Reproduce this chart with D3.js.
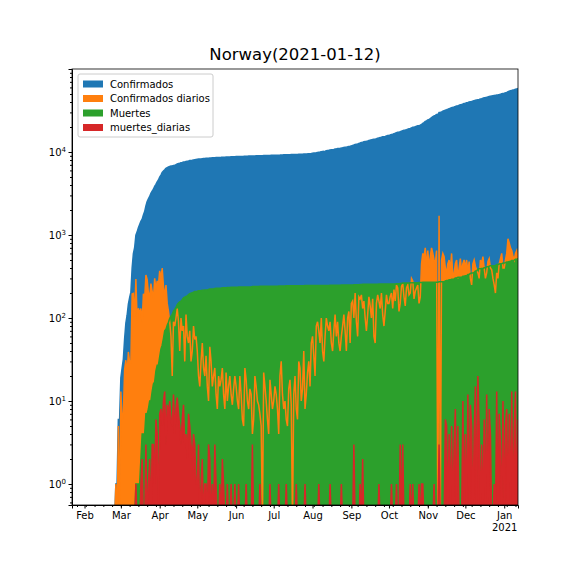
<!DOCTYPE html>
<html>
<head>
<meta charset="utf-8">
<script src="https://cdn.jsdelivr.net/npm/d3@7"></script>
<style>
body { margin: 0; background: #fff; }
text { font-family: "DejaVu Sans", sans-serif; }
</style>
</head>
<body>
<div id="chart"></div>
<script>
// daily new cases (first day 2020-01-22)
var casesJan = [0,0,0,0,0,0,0,0,0,0];
var casesFeb = [0,0,0,0,0,0,0,0,0,0,0,0,0,0,0,0,0,0,0,0,0,0,0,0,0,1,0,5,0];
var casesMar = [13,6,7,24,31,21,39,29,29,195,198,104,294,94,131,112,130,87,196,168,330,290,200,180,260,210,170,300,220,280,250];
var casesApr = [370,300,400,240,180,250,150,120,90,60,20,90,80,100,130,90,40,100,70,80,30,110,60,50,70,30,40,80,55,60];
var casesMay = [40,20,15,30,50,25,20,35,15,10,45,30,15,20,25,12,8,20,15,18,25,12,8,22,10,15,20,12,9,14,20];
var casesJun = [15,10,8,20,12,6,5,25,18,10,8,14,12,4,6,20,15,10,9,7,5,0,22,15,10,6,4,18,12,8];
var casesJul = [10,15,12,8,4,20,30,12,8,10,6,5,14,18,9,0,12,20,8,6,30,25,10,14,40,8,12,22,30,15,50];
var casesAug = [60,35,20,80,90,70,50,100,40,30,60,100,80,70,90,50,40,70,110,60,90,50,40,60,80,110,70,40,100,120,50];
var casesSep = [150,160,100,200,90,60,180,170,190,130,160,100,70,110,180,140,100,170,60,50,150,190,160,130,200,110,80,120,190,150];
var casesOct = [150,180,200,130,220,160,250,230,120,150,240,260,180,140,230,250,190,200,300,280,170,210,230,250,150,180,450,600,550,700,400];
var casesNov = [650,400,550,700,600,500,450,650,0,1700,0,500,600,550,400,350,450,500,380,600,300,350,450,500,300,400,520,350,450,500];
var casesDec = [400,500,350,480,300,250,450,500,420,380,350,300,500,450,550,400,300,350,480,520,400,380,300,250,200,350,300,450,520,600,400];
var casesJan21 = [400,500,600,900,800,700,650,550,500,600,650,500];

// daily deaths
var deathsJan = [0,0,0,0,0,0,0,0,0,0];
var deathsFeb = [0,0,0,0,0,0,0,0,0,0,0,0,0,0,0,0,0,0,0,0,0,0,0,0,0,0,0,0,0];
var deathsMar = [0,0,0,0,0,0,0,0,0,0,0,0,1,0,0,0,1,2,0,0,3,0,1,2,0,3,3,1,6,4,0];
var deathsApr = [7,8,5,10,13,3,9,7,10,6,5,12,4,8,11,7,5,3,6,9,3,4,2,7,5,3,2,4,3,1];
var deathsMay = [1,3,0,1,2,0,1,1,0,3,2,0,1,0,3,1,0,0,1,0,2,1,0,0,1,0,0,1,0,0,1];
var deathsJun = [0,0,1,0,0,0,0,0,1,0,0,0,0,3,0,0,0,0,0,1,0,0,0,0,0,0,0,1,0,0];
var deathsJul = [0,0,0,0,1,0,0,0,0,0,1,0,0,0,0,0,0,0,1,0,0,0,0,0,0,1,0,0,0,0,0];
var deathsAug = [0,0,0,0,0,1,0,0,0,0,0,0,0,0,1,0,0,0,0,0,0,0,0,1,0,0,0,0,0,0,0];
var deathsSep = [0,0,3,0,0,0,0,1,0,2,0,0,0,0,0,0,0,0,0,0,0,0,1,0,0,0,0,0,0,0];
var deathsOct = [0,0,1,0,0,0,1,0,0,3,0,3,0,0,0,0,0,1,0,1,0,0,0,0,1,0,1,1,0,0,0];
var deathsNov = [0,0,0,0,0,1,0,0,0,3,0,0,0,0,6,5,0,4,0,5,0,3,8,0,5,0,0,0,10,0];
var deathsDec = [4,0,12,0,9,5,0,4,15,0,20,5,0,3,0,6,0,12,0,8,4,0,0,1,0,13,0,7,3,0,10];
var deathsJan21 = [0,5,8,0,7,0,13,0,5,13,0,6];

var seriesNames = ["Confirmados", "Confirmados diarios", "Muertes", "muertes_diarias"];
var colors = ["#1f77b4", "#ff7f0e", "#2ca02c", "#d62728"];

var dailyCases = [].concat(casesJan, casesFeb, casesMar, casesApr, casesMay, casesJun, casesJul, casesAug, casesSep, casesOct, casesNov, casesDec, casesJan21);
var dailyDeaths = [].concat(deathsJan, deathsFeb, deathsMar, deathsApr, deathsMay, deathsJun, deathsJul, deathsAug, deathsSep, deathsOct, deathsNov, deathsDec, deathsJan21);

var start = new Date(2020, 0, 22);
var totC = 0, totD = 0;
var data = dailyCases.map(function(c, i) {
  totC += c; totD += dailyDeaths[i];
  return {date: d3.timeDay.offset(start, i), v: [totC, c, totD, dailyDeaths[i]]};
});

var W = 576, H = 576;
var margin = {top: 69, right: 58, bottom: 71, left: 72};
var width = W - margin.left - margin.right,
    height = H - margin.top - margin.bottom;

var svg = d3.select("#chart").append("svg")
    .attr("width", W).attr("height", H)
  .append("g")
    .attr("transform", "translate(" + margin.left + "," + margin.top + ")");

var x = d3.scaleTime()
    .domain([start, data[data.length - 1].date])
    .range([0, width]);
var y = d3.scaleLog()
    .domain([Math.pow(10, -0.253), 1e5])
    .range([height, 0]);

var clipY = function(v) { return v > 0 ? y(v) : height + 20; };

svg.append("clipPath").attr("id", "clip")
  .append("rect").attr("width", width).attr("height", height);
var plot = svg.append("g").attr("clip-path", "url(#clip)");

// fills first, lines on top (matplotlib zorder)
colors.forEach(function(col, k) {
  var area = d3.area()
    .x(function(d) { return x(d.date); })
    .y0(height + 20)
    .y1(function(d) { return clipY(d.v[k]); });
  plot.append("path").datum(data).attr("d", area).attr("fill", col);
});
colors.forEach(function(col, k) {
  var line = d3.line()
    .x(function(d) { return x(d.date); })
    .y(function(d) { return clipY(d.v[k]); });
  plot.append("path").datum(data).attr("d", line)
    .attr("fill", "none").attr("stroke", col).attr("stroke-width", 1.5);
});

// axes
var xAxis = svg.append("g").attr("transform", "translate(0," + height + ")")
  .call(d3.axisBottom(x).ticks(d3.timeMonth).tickSize(3.5).tickPadding(3.5)
    .tickFormat(d3.timeFormat("%b")));
xAxis.selectAll("text").attr("font-size", 10).attr("fill", "#000");
xAxis.selectAll(".tick").filter(function(d) { return d.getFullYear() === 2021; })
  .select("text").append("tspan").attr("x", 0).attr("dy", "1.2em").text("2021");
svg.append("g").attr("transform", "translate(0," + height + ")")
  .call(d3.axisBottom(x).ticks(d3.timeWeek).tickSize(2).tickFormat(""))
  .select(".domain").remove();

var majors = [1, 10, 100, 1000, 10000];
var minors = [];
for (var e = -1; e < 5; e++) for (var m = 2; m < 10; m++) {
  var v = m * Math.pow(10, e);
  if (v > y.domain()[0] && v < 1e5) minors.push(v);
}
var yAxis = svg.append("g")
  .call(d3.axisLeft(y).tickValues(majors).tickSize(3.5).tickPadding(3.5).tickFormat(""));
yAxis.selectAll(".tick").append("text")
  .attr("x", -6).attr("dy", "0.32em").attr("text-anchor", "end")
  .attr("font-size", 10).attr("fill", "#000")
  .each(function(d) {
    var t = d3.select(this);
    t.append("tspan").text("10");
    t.append("tspan").attr("dy", "-0.5em").attr("font-size", 7).text(Math.round(Math.log10(d)));
  });
svg.append("g").call(d3.axisLeft(y).tickValues(minors).tickSize(2).tickFormat(""))
  .select(".domain").remove();

svg.append("rect").attr("width", width).attr("height", height)
  .attr("fill", "none").attr("stroke", "#000").attr("stroke-width", 0.8);

svg.append("text").attr("x", width / 2).attr("y", -9)
  .attr("text-anchor", "middle").attr("font-size", 16.5)
  .text("Norway(2021-01-12)");

// legend
var lg = svg.append("g").attr("transform", "translate(6,5)");
lg.append("rect").attr("width", 135).attr("height", 63).attr("rx", 2)
  .attr("fill", "#fff").attr("fill-opacity", 0.8).attr("stroke", "#ccc");
seriesNames.forEach(function(n, k) {
  var g = lg.append("g").attr("transform", "translate(5," + (5 + k * 14.5) + ")");
  g.append("rect").attr("width", 20).attr("height", 7).attr("y", 1.5).attr("fill", colors[k]);
  g.append("text").attr("x", 27).attr("y", 8.5).attr("font-size", 10).text(n);
});
</script>
</body>
</html>
